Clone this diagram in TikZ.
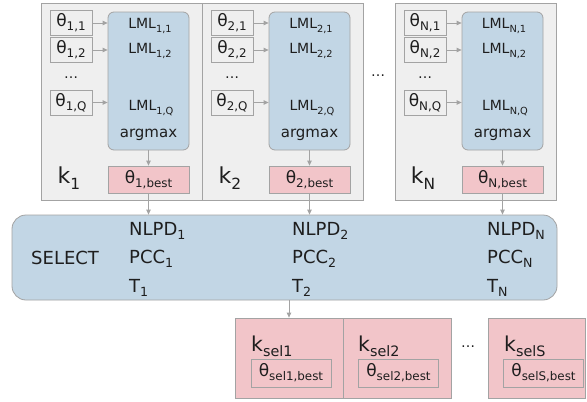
\documentclass[tikz,border=0pt]{standalone}
\usepackage{fontspec}
\usepackage{graphicx}
\setmainfont{DejaVu Sans}
\usetikzlibrary{arrows.meta}
\definecolor{bgray}{HTML}{EFEFEF}
\definecolor{lgray}{HTML}{A3A3A3}
\definecolor{lblue}{HTML}{C2D6E5}
\definecolor{lpink}{HTML}{F2C5C9}
\definecolor{txt}{HTML}{1E1E1E}
\newcommand\fs[1]{\fontsize{#1}{#1}\selectfont}
\newcommand\sbs[1]{\raisebox{-0.24em}{\scalebox{0.7}{#1}}}
\begin{document}
\begin{tikzpicture}[x=1pt,y=-1pt,
  every node/.style={text=txt, inner sep=0pt},
  outerbox/.style={draw=lgray, fill=bgray, line width=0.8pt, minimum width=161pt, minimum height=197pt},
  thbox/.style={draw=lgray, fill=bgray, line width=0.8pt, minimum width=42pt, minimum height=25pt, font=\fs{17}},
  lmlbox/.style={draw=lgray, fill=lblue, line width=0.8pt, rounded corners=6pt, minimum width=81pt, minimum height=138pt},
  bestbox/.style={draw=lgray, fill=lpink, line width=0.8pt, minimum width=81pt, minimum height=27pt, font=\fs{17}},
  lmltxt/.style={font=\fs{14}},
  klabel/.style={font=\fs{22}},
  seltxt/.style={font=\fs{18}, anchor=west},
  ksbox/.style={draw=lgray, fill=lpink, line width=0.8pt, minimum height=80pt},
  thsel/.style={draw=lgray, fill=lpink, line width=0.8pt, minimum width=80pt, minimum height=28pt, font=\fs{17}},
  kstxt/.style={font=\fs{20.5}, anchor=west},
  dots/.style={font=\fs{14}},
  arr/.style={draw=lgray, line width=0.8pt, -{Triangle[length=5pt,width=4.5pt]}}
]
\useasboundingbox (0,0) rectangle (587,402);
\fill[white] (0,0) rectangle (587,402);

\foreach \L/\i/\n in {41/1/a, 202/2/b, 395/N/c}{
  \node[outerbox] (out\n) at (\L+80.5,101.5) {};
  \node[thbox] (tha\n) at (\L+30,23) {θ\sbs{\i,1}};
  \node[thbox] (thb\n) at (\L+30,50) {θ\sbs{\i,2}};
  \node[dots] (dt\n) at (\L+30,78) {…};
  \node[thbox] (thq\n) at (\L+30,102.5) {θ\sbs{\i,Q}};
  \node[lmlbox] (lml\n) at (\L+107.5,81) {};
  \node[lmltxt] (la\n) at (\L+109,26) {LML\sbs{\i,1}};
  \node[lmltxt] (lb\n) at (\L+109,51) {LML\sbs{\i,2}};
  \node[lmltxt] (lq\n) at (\L+110,108) {LML\sbs{\i,Q}};
  \node[font=\fs{15}] (am\n) at (\L+107.5,135) {argmax};
  \node[bestbox] (best\n) at (\L+107.5,179.5) {θ\sbs{\i,best}};
  \node[klabel] (k\n) at (\L+28,178) {k\sbs{\i}};
  \draw[arr] (tha\n.east) -- (lml\n.west |- tha\n.east);
  \draw[arr] (thb\n.east) -- (lml\n.west |- thb\n.east);
  \draw[arr] (thq\n.east) -- (lml\n.west |- thq\n.east);
  \draw[arr] (lml\n.south -| best\n.north) -- (best\n.north);
}
\node[dots] (dtop) at (378,76) {…};

\node[draw=lgray, fill=lblue, line width=0.8pt, rounded corners=14pt, minimum width=545pt, minimum height=85pt] (sel) at (284.5,257.5) {};
\node[seltxt] (seltitle) at (31,258) {SELECT};
\foreach \x/\i/\n in {129/1/a, 292/2/b, 487/N/c}{
  \node[seltxt] (nl\n) at (\x,231) {NLPD\sbs{\i}};
  \node[seltxt] (pc\n) at (\x,259) {PCC\sbs{\i}};
  \node[seltxt] (tt\n) at (\x,288) {T\sbs{\i}};
  \draw[arr] (best\n.south) -- (best\n.south |- sel.north);
}

\node[ksbox, minimum width=108pt] (ks1) at (289,358) {};
\node[ksbox, minimum width=108pt] (ks2) at (397,358) {};
\node[ksbox, minimum width=97pt] (ks3) at (536.5,358) {};
\node[thsel] (ts1) at (291,373) {θ\sbs{sel1,best}};
\node[thsel] (ts2) at (398.5,373) {θ\sbs{sel2,best}};
\node[thsel] (ts3) at (543.5,373) {θ\sbs{selS,best}};
\node[kstxt] (kl1) at (251,346) {k\sbs{sel1}};
\node[kstxt] (kl2) at (358,346) {k\sbs{sel2}};
\node[kstxt] (kl3) at (504,346) {k\sbs{selS}};
\node[dots] (dbot) at (468,347) {…};
\draw[arr] (sel.south -| ks1.north) -- (ks1.north);
\end{tikzpicture}
\end{document}
